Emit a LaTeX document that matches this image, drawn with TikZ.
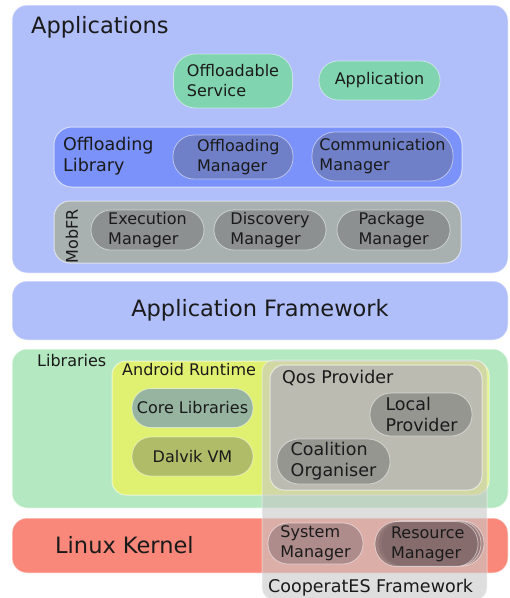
\documentclass[tikz,border=0pt]{standalone}
\usepackage{fontspec}
\setmainfont{DejaVu Sans}
\definecolor{appbg}{RGB}{176,190,250}
\definecolor{greenn}{RGB}{128,212,176}
\definecolor{offlib}{RGB}{122,146,250}
\definecolor{offnode}{RGB}{112,128,200}
\definecolor{mobfr}{RGB}{168,176,176}
\definecolor{mobnode}{RGB}{140,144,144}
\definecolor{libbg}{RGB}{180,232,192}
\definecolor{andr}{RGB}{224,240,112}
\definecolor{corelib}{RGB}{150,180,160}
\definecolor{dalvik}{RGB}{176,188,104}
\definecolor{kernel}{RGB}{250,136,122}
\definecolor{coopg}{RGB}{200,200,200}
\definecolor{qos}{RGB}{187,187,178}
\definecolor{qosnode}{RGB}{150,150,145}
\definecolor{sysm}{RGB}{175,140,140}
\definecolor{resm}{RGB}{128,104,104}
\definecolor{txt}{RGB}{26,26,26}
\begin{document}
\begin{tikzpicture}[x=1pt,y=-1pt,
  box/.style={draw=white,draw opacity=0.6,line width=1pt,inner sep=0pt,rounded corners=#1},
  box/.default=15pt,
  pill/.style={draw=white,draw opacity=0.5,line width=0.8pt,inner sep=0pt,align=left,text=txt,
    font=\fontsize{16}{20}\selectfont},
  big/.style={text=txt,font=\fontsize{22.5}{26}\selectfont,inner sep=0pt},
  small/.style={text=txt,font=\fontsize{16}{20}\selectfont,inner sep=0pt,align=left},
  coop/.style={text=txt,font=\fontsize{17.5}{21}\selectfont,inner sep=0pt,align=left}]
\useasboundingbox (0,0) rectangle (510,598);
\begin{scope}
\clip (0,0) rectangle (510,598);
% Applications
\node[box,fill=appbg,minimum width=496pt,minimum height=268pt] (apps) at (260,139) {};
\node[big,anchor=base west] (appsT) at (31,33) {Applications};
\node[pill,fill=greenn,rounded corners=22pt,minimum width=119pt,minimum height=54pt] (offs) at (233,81) {Offloadable\\Service};
\node[pill,fill=greenn,rounded corners=19pt,minimum width=121pt,minimum height=39pt] (app) at (379.5,80.5) {Application};
% Offloading library
\node[box=18pt,fill=offlib,minimum width=408pt,minimum height=60pt] (offlib) at (258,157) {};
\node[coop,anchor=west] (offlibT) at (63,156) {Offloading\\Library};
\node[pill,fill=offnode,rounded corners=21pt,minimum width=120pt,minimum height=44pt,text width=72pt] (offm) at (233,157) {Offloading\\Manager};
\node[pill,fill=offnode,rounded corners=23pt,minimum width=141pt,minimum height=49pt] (comm) at (382.5,156.5) {Communication\\Manager};
% MobFR
\node[box=16pt,fill=mobfr,minimum width=407pt,minimum height=62pt] (mob) at (257.5,232) {};
\node[small,rotate=90] (mobT) at (72,236) {MobFR};
\node[pill,fill=mobnode,rounded corners=20pt,minimum width=113pt,minimum height=40pt] (exe) at (147.5,230) {Execution\\Manager};
\node[pill,fill=mobnode,rounded corners=20pt,minimum width=112pt,minimum height=40pt] (disc) at (270,230) {Discovery\\Manager};
\node[pill,fill=mobnode,rounded corners=20pt,minimum width=113pt,minimum height=40pt,text width=70pt] (pkg) at (393.5,230) {Package\\Manager};
% Application Framework
\node[box,fill=appbg,minimum width=496pt,minimum height=59pt,big] (fw) at (260,310.5) {Application Framework};
% Libraries
\node[box,fill=libbg,minimum width=496pt,minimum height=159pt] (libs) at (260,428.5) {};
\node[small,anchor=base west] (libsT) at (37,366) {Libraries};
\node[box=14pt,fill=andr,minimum width=377pt,minimum height=134pt] (andr) at (300.5,428) {};
\node[small,anchor=base west] (andrT) at (122,375) {Android Runtime};
\node[pill,fill=corelib,rounded corners=19pt,minimum width=121pt,minimum height=39pt] (core) at (192.5,408) {Core Libraries};
\node[pill,fill=dalvik,rounded corners=19pt,minimum width=121pt,minimum height=39pt] (dalv) at (192.5,456.5) {Dalvik VM};
% Linux kernel
\node[box,fill=kernel,minimum width=496pt,minimum height=55pt] (kern) at (260,545.5) {};
\node[big,anchor=base west] (kernT) at (55,553) {Linux Kernel};
% CooperatES overlay
\node[box=12pt,fill=coopg,fill opacity=0.6,draw opacity=0.4,minimum width=225pt,minimum height=240pt] (coop) at (374.5,480) {};
\node[box=14pt,fill=qos,minimum width=212pt,minimum height=125pt] (qos) at (376,427.5) {};
\node[coop,anchor=base west] (qosT) at (282,383) {Qos Provider};
\node[pill,coop,fill=qosnode,rounded corners=21pt,minimum width=102pt,minimum height=43pt,text width=71pt] (local) at (421,414.5) {Local\\Provider};
\node[pill,coop,fill=qosnode,rounded corners=22pt,minimum width=113pt,minimum height=45pt] (coal) at (333.5,461.5) {Coalition\\Organiser};
\node[pill,fill=sysm,rounded corners=20pt,minimum width=95pt,minimum height=41pt] (sys) at (315.5,543.5) {System\\Manager};
\node[pill,fill=resm,fill opacity=0.5,rounded corners=22pt,minimum width=103pt,minimum height=45pt] (res2) at (432.5,543.5) {};
\node[pill,fill=resm,fill opacity=0.5,rounded corners=22pt,minimum width=103pt,minimum height=45pt] (res1) at (429.5,543.5) {};
\node[pill,fill=resm,fill opacity=0.7,rounded corners=22pt,minimum width=103pt,minimum height=45pt] (res) at (426.5,544) {};
\node[small,text width=76pt] (resT) at (429,544) {Resource\\Manager};
\node[coop,anchor=base west] (coopT) at (268,592) {CooperatES Framework};
\end{scope}
\end{tikzpicture}
\end{document}
